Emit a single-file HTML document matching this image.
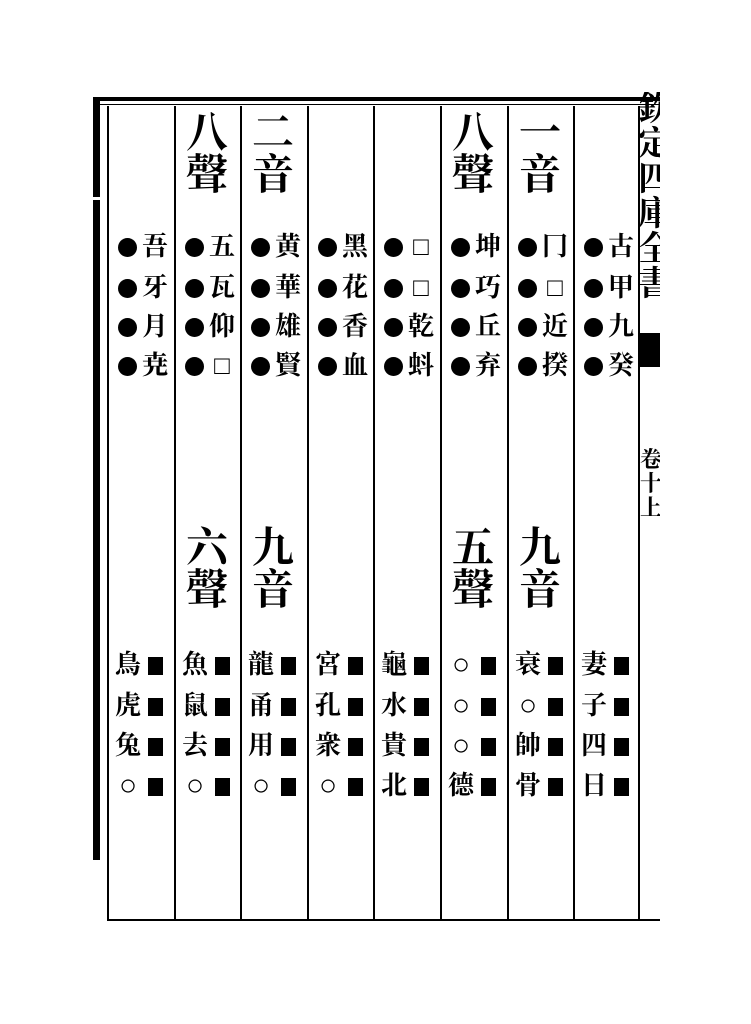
<!DOCTYPE html>
<html><head><meta charset="utf-8"><style>
body{margin:0;width:751px;height:1024px;background:#fff;position:relative;overflow:hidden;font-family:"Liberation Serif","Noto Serif CJK SC","Noto Sans CJK SC",serif;color:#000}
.v{position:absolute;background:#000;width:2px}
.h{position:absolute;background:#000;height:2px}
.t{position:absolute;font-size:26px;line-height:26px;width:30px;text-align:center;font-weight:bold}
.big{position:absolute;font-size:42px;line-height:42px;width:50px;text-align:center;font-weight:bold}
.dot{position:absolute;width:19px;height:19px;border-radius:50%;background:#000}
.sq{position:absolute;width:15px;height:18px;background:#000}
.o{font-size:30px;font-weight:normal}
</style></head><body>
<div class="v" style="left:93px;top:97px;width:7px;height:100px"></div>
<div class="v" style="left:93px;top:200px;width:7px;height:660px"></div>
<div class="h" style="left:100px;top:97px;width:560px;height:4px"></div>
<div class="h" style="left:100px;top:104px;width:560px;height:1px"></div>
<div class="h" style="left:107px;top:919px;width:553px"></div>
<div class="v" style="left:107px;top:106px;height:815px"></div>
<div class="v" style="left:174px;top:106px;height:815px"></div>
<div class="v" style="left:240px;top:106px;height:815px"></div>
<div class="v" style="left:307px;top:106px;height:815px"></div>
<div class="v" style="left:373px;top:106px;height:815px"></div>
<div class="v" style="left:440px;top:106px;height:815px"></div>
<div class="v" style="left:507px;top:106px;height:815px"></div>
<div class="v" style="left:573px;top:106px;height:815px"></div>
<div class="v" style="left:638px;top:106px;height:815px"></div>
<div style="position:absolute;left:640px;top:92px;width:20px;height:240px;overflow:hidden"><div style="font-size:34px;line-height:35px;width:36px;margin-left:-2px;font-weight:bold">欽定四庫全書</div></div>
<div style="position:absolute;left:640px;top:333px;width:20px;height:34px;background:#000"></div>
<div style="position:absolute;left:640px;top:448px;width:20px;height:80px;overflow:hidden"><div style="font-size:22px;line-height:24px;width:24px;font-weight:bold">卷十上</div></div>
<div id="c"></div>
<script>
(function(){
var L=[107,174,240,307,373,440,507,573];
var T=[["吾","牙","月","尭"],["五","瓦","仰","□"],["黄","華","雄","賢"],["黑","花","香","血"],["□","□","乾","蚪"],["坤","巧","丘","弃"],["冂","□","近","揆"],["古","甲","九","癸"]];
var B=[["鳥","虎","兔","○"],["魚","鼠","去","○"],["龍","甬","用","○"],["宮","孔","衆","○"],["龜","水","貴","北"],["○","○","○","德"],["衰","○","帥","骨"],["妻","子","四","日"]];
var hd={1:["八聲","六聲"],2:["二音","九音"],5:["八聲","五聲"],6:["一音","九音"]};
var h="",ty=[234,275,314,353],by=[652,693,733,773];
for(var i=0;i<8;i++){var x=L[i];
 if(hd[i]){h+='<div class="big" style="left:'+(x+8)+'px;top:113px">'+hd[i][0][0]+'<br>'+hd[i][0][1]+'</div>';
  h+='<div class="big" style="left:'+(x+8)+'px;top:528px">'+hd[i][1][0]+'<br>'+hd[i][1][1]+'</div>';}
 for(var j=0;j<4;j++){
  h+='<div class="dot" style="left:'+(x+11)+'px;top:'+(ty[j]+4)+'px"></div>';
  h+='<div class="t" style="left:'+(x+33)+'px;top:'+ty[j]+'px">'+T[i][j]+'</div>';
  var b=B[i][j];
  h+='<div class="t" style="left:'+(x+6)+'px;top:'+by[j]+'px">'+(b=="○"?'<span class="o">○</span>':b)+'</div>';
  h+='<div class="sq" style="left:'+(x+41)+'px;top:'+(by[j]+5)+'px"></div>';
 }}
document.getElementById("c").innerHTML=h;
})();
</script>
</body></html>
